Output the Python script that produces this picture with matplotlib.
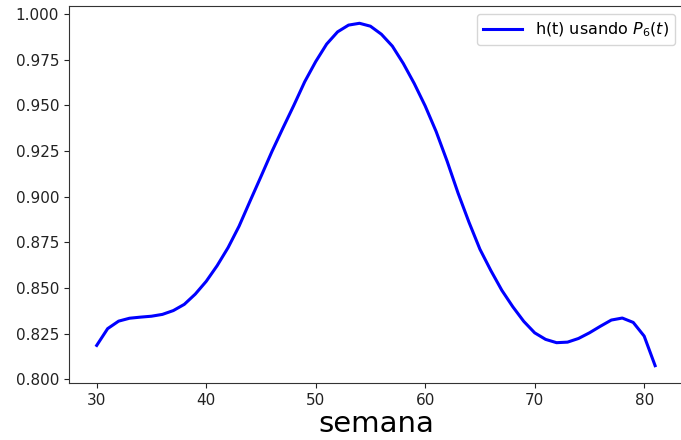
import numpy as np
import matplotlib
matplotlib.use("Agg")
import matplotlib.pyplot as plt

# semanas 30..81 y valores de h(t)
semana = np.arange(30, 82)
h_vals = [0.8185, 0.8277, 0.8318, 0.8334, 0.8340, 0.8345, 0.8355, 0.8376,
          0.8410, 0.8466, 0.8536, 0.8622, 0.8721, 0.8838, 0.8975, 0.9110,
          0.9247, 0.9375, 0.9500, 0.9630, 0.9740, 0.9836, 0.9903, 0.9940,
          0.9950, 0.9934, 0.9890, 0.9825, 0.9730, 0.9620, 0.9497, 0.9357,
          0.9195, 0.9020, 0.8860, 0.8712, 0.8595, 0.8487, 0.8397, 0.8317,
          0.8254, 0.8218, 0.8200, 0.8203, 0.8223, 0.8254, 0.8290, 0.8324,
          0.8335, 0.8311, 0.8236, 0.8074]
label = "h(t) usando $P_6(t)$"

fig = plt.figure(figsize=(6.81, 4.40), dpi=100)
ax = fig.add_axes([0.101, 0.130, 0.902, 0.856])
ax.plot(semana, h_vals, color="blue", linewidth=2.2, label=label)

ax.set_yticks([0.800, 0.825, 0.850, 0.875, 0.900, 0.925, 0.950, 0.975, 1.000])
ax.set_xticks([30, 40, 50, 60, 70, 80])
ax.tick_params(labelsize=11, colors="#222222")
for s in ax.spines.values():
    s.set_color("#333333")
ax.set_xlabel("semana", fontsize=21, labelpad=2)
ax.legend(loc="upper right", fontsize=11.5, handlelength=2.4)

fig.savefig("out.png", dpi=100)
